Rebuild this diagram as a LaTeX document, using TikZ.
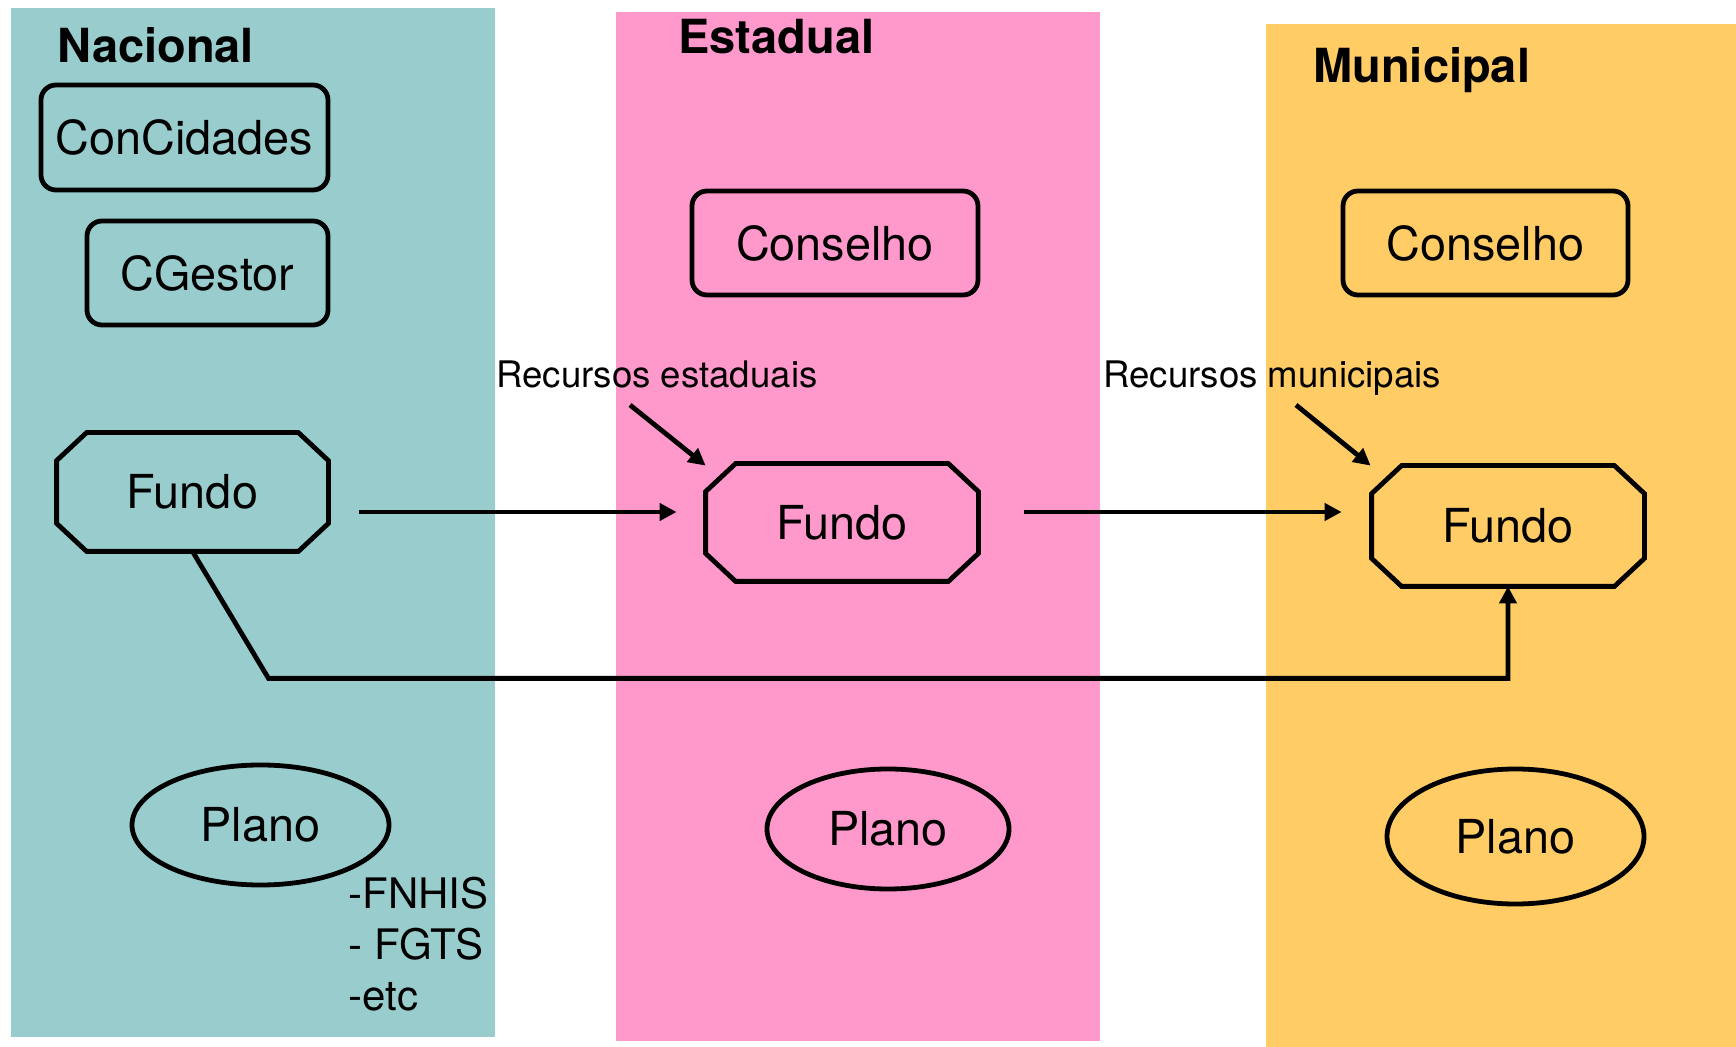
\documentclass[tikz,border=0pt]{standalone}
\usepackage{fontspec}
\setmainfont{TeX Gyre Heros}
\usetikzlibrary{shapes.geometric,arrows.meta,calc}
\definecolor{tealbg}{RGB}{153,204,204}
\definecolor{pinkbg}{RGB}{255,153,204}
\definecolor{orangebg}{RGB}{255,204,102}
\newcommand\octbox[1]{%
  \draw[line width=2.4pt,line join=miter]
    ($(#1.north west)+(30,0)$) -- ($(#1.north east)+(-30,0)$) --
    ($(#1.north east)+(0,28)$) -- ($(#1.south east)+(0,-28)$) --
    ($(#1.south east)+(-30,0)$) -- ($(#1.south west)+(30,0)$) --
    ($(#1.south west)+(0,-28)$) -- ($(#1.north west)+(0,28)$) -- cycle;}
\begin{document}
\begin{tikzpicture}[x=0.5pt,y=-0.5pt,
  lbl/.style={font=\fontsize{23.4}{28}\selectfont, inner sep=0pt},
  rbox/.style={lbl, draw, line width=2.4pt, rounded corners=7.5pt},
  fundobox/.style={lbl},
  planobox/.style={lbl, draw, line width=2.4pt, ellipse},
  title/.style={font=\fontsize{23.5}{28}\selectfont\bfseries, inner sep=0pt, anchor=base west},
  small/.style={font=\fontsize{18.3}{22}\selectfont, inner sep=0pt, anchor=base west},
  arr/.style={line width=2.4pt, -{Triangle[length=8.5pt,width=8.5pt]}}]
\useasboundingbox (0,0) rectangle (1736,1047);
\fill[white] (0,0) rectangle (1736,1047);
% columns
\fill[tealbg] (11,8) rectangle (495,1037);
\fill[pinkbg] (616,12) rectangle (1100,1041);
\fill[orangebg] (1266,24) rectangle (1736,1047);
% titles
\node[title] (tn) at (57,63) {Nacional};
\node[title] (te) at (678,54) {Estadual};
\node[title] (tm) at (1313,83) {Municipal};
% Nacional
\node[rbox, minimum width=143.5pt, minimum height=52.5pt] (concid) at (184.5,137.5) {ConCidades};
\node[rbox, minimum width=120.5pt, minimum height=52pt] (cgest) at (207.5,273) {CGestor};
\node[fundobox, minimum width=135.5pt, minimum height=59pt] (fn) at (192.5,492) {Fundo};
\octbox{fn}
\node[planobox, minimum width=128.5pt, minimum height=60pt] (pn) at (260.5,825) {Plano};
\node[font=\fontsize{21}{25.5}\selectfont, inner sep=0pt, anchor=north west, align=left] (notes) at (348,877) {-FNHIS\\- FGTS\\-etc};
% Estadual
\node[rbox, minimum width=143pt, minimum height=52pt] (conse) at (835,243) {Conselho};
\node[small] (re) at (496,388) {Recursos estaduais};
\node[fundobox, minimum width=136pt, minimum height=58.5pt] (fe) at (842,522.5) {Fundo};
\octbox{fe}
\node[planobox, minimum width=121pt, minimum height=60pt] (pe) at (888,829) {Plano};
% Municipal
\node[rbox, minimum width=142.5pt, minimum height=52pt] (consm) at (1485.5,243) {Conselho};
\node[small] (rm) at (1103,388) {Recursos municipais};
\node[fundobox, minimum width=136pt, minimum height=60pt] (fm) at (1508,526) {Fundo};
\octbox{fm}
\node[planobox, minimum width=128.5pt, minimum height=67.5pt] (pm) at (1515.5,836.5) {Plano};
% connectors
\draw[arr] ($(fn.east)+(31,20)$) -- ($(fe.west)+(-29,-10.5)$);
\draw[arr] ($(fe.east)+(46,-10.5)$) -- ($(fm.west)+(-30,-14)$);
\draw[arr] ($(re.base west)+(134,17)$) -- ($(fe.north west)+(0,2)$);
\draw[arr] ($(rm.base west)+(193,17)$) -- ($(fm.north west)+(-1,0)$);
\draw[arr, line join=miter] (fn.south) -- ++(76,127) -| (fm.south);
\end{tikzpicture}
\end{document}
